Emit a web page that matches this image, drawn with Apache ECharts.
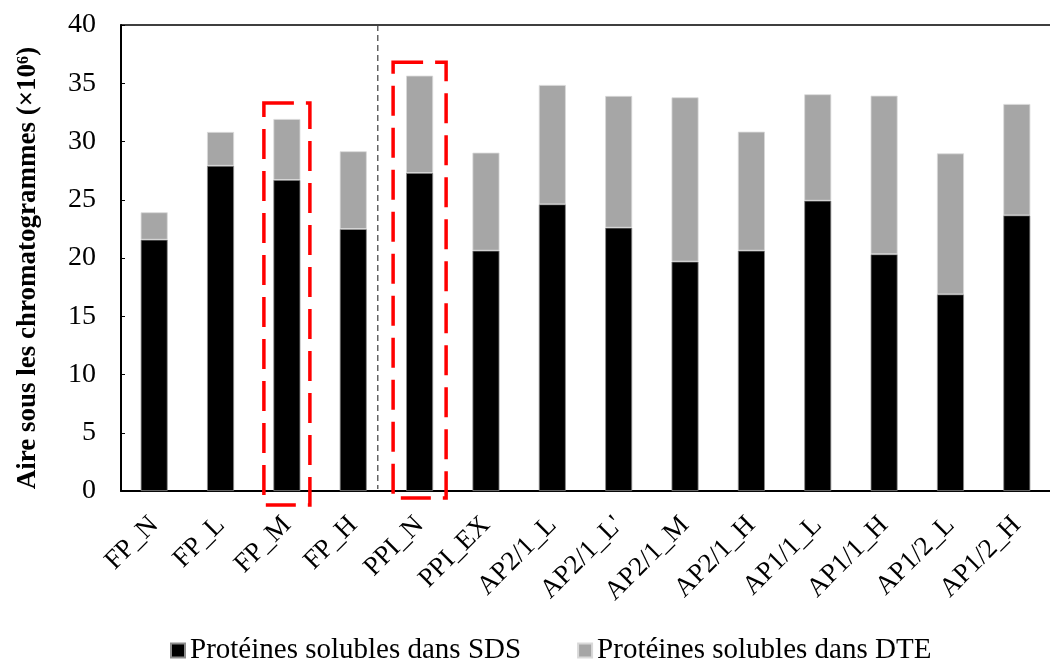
<!DOCTYPE html>
<html>
<head>
<meta charset="utf-8">
<script src="https://cdn.jsdelivr.net/npm/echarts@6/dist/echarts.min.js"></script>
<style>
  html, body { margin: 0; padding: 0; background: #fff; }
  #Chart { width: 1050px; height: 662px; }
</style>
</head>
<body>
<div id="Chart"></div>
<script>
// données
var categories = ['FP_N', 'FP_L', 'FP_M', 'FP_H', 'PPI_N', 'PPI_EX', 'AP2/1_L', "AP2/1_L'", 'AP2/1_M', 'AP2/1_H', 'AP1/1_L', 'AP1/1_H', 'AP1/2_L', 'AP1/2_H'];
var sds = [21.57, 27.92, 26.70, 22.49, 27.30, 20.63, 24.61, 22.60, 19.69, 20.63, 24.92, 20.32, 16.88, 23.66];
var dte = [2.35, 2.90, 5.23, 6.67, 8.35, 8.41, 10.24, 11.31, 14.10, 10.21, 9.13, 13.61, 12.10, 9.56];
var yTicks = [0, 5, 10, 15, 20, 25, 30, 35, 40];
var seriesNames = ['Protéines solubles dans SDS', 'Protéines solubles dans DTE'];

var fontFam = 'Liberation Serif';
var black = '#000000';
var grey = '#a6a6a6';

var myChart = echarts.init(document.getElementById('Chart'));
var option = {
    animation: false,
    textStyle: { fontFamily: fontFam },
    grid: {
        left: 121,
        right: -12,
        top: 25,
        bottom: 171
    },
    legend: {
        bottom: -8,
        left: 165,
        itemWidth: 14,
        itemHeight: 14,
        itemGap: 56,
        icon: 'rect',
        textStyle: { fontFamily: fontFam, fontSize: 29, color: '#000' },
        data: seriesNames
    },
    xAxis: [{
        type: 'category',
        data: categories,
        axisLine: { lineStyle: { color: '#000', width: 2 } },
        axisTick: { show: false },
        axisLabel: {
            rotate: 45,
            interval: 0,
            margin: 30,
            fontFamily: fontFam,
            fontSize: 27,
            color: '#000'
        }
    }, {
        type: 'category',
        position: 'top',
        data: categories,
        axisLine: { show: true, lineStyle: { color: '#000', width: 1.5 } },
        axisTick: { show: false },
        axisLabel: { show: false }
    }],
    yAxis: {
        type: 'value',
        min: yTicks[0],
        max: yTicks[yTicks.length - 1],
        interval: 5,
        name: 'Aire sous les chromatogrammes (×10⁶)',
        nameLocation: 'middle',
        nameGap: 79,
        nameTextStyle: {
            fontFamily: fontFam,
            fontSize: 27,
            fontWeight: 'bold',
            color: '#000',
            padding: [0, 20, 0, 0]
        },
        axisLine: { show: true, lineStyle: { color: '#000', width: 2 } },
        axisTick: { show: true, inside: true, length: 4, lineStyle: { color: '#000' } },
        splitLine: { show: false },
        axisLabel: {
            margin: 25,
            fontFamily: fontFam,
            fontSize: 28,
            color: '#000'
        }
    },
    series: [
        {
            name: seriesNames[0],
            type: 'bar',
            stack: 'tot',
            barWidth: 27,
            data: sds,
            itemStyle: { color: black, borderColor: '#8c8c8c', borderWidth: 0.8 }
        },
        {
            name: seriesNames[1],
            type: 'bar',
            stack: 'tot',
            barWidth: 27,
            data: dte,
            itemStyle: { color: grey, borderColor: '#d9d9d9', borderWidth: 0.8 }
        }
    ]
};
myChart.setOption(option);

// annotations : séparateur pointillé et cadres rouges
function px(idx, val) {
    return myChart.convertToPixel({ gridIndex: 0 }, [idx, val]);
}
var p3 = px(3, 0), p4 = px(4, 0), pTop = px(3, 40);
var sepX = p3[0] + (p4[0] - p3[0]) * 0.37;
var boxes = [
    { idx: 2, top: 33.3, bottom: -1.2, half: 23 },
    { idx: 4, top: 36.8, bottom: -0.6, half: 26.5 }
];
var graphics = [{
    type: 'line',
    shape: { x1: sepX, y1: pTop[1], x2: sepX, y2: p3[1] - 2 },
    style: { stroke: '#404040', lineWidth: 1.2, lineDash: [6, 4] },
    z: 10
}];
boxes.forEach(function (b) {
    var a = px(b.idx, b.top), c = px(b.idx, b.bottom);
    graphics.push({
        type: 'rect',
        shape: { x: a[0] - b.half, y: a[1], width: b.half * 2, height: c[1] - a[1] },
        style: { fill: 'none', stroke: '#ff0000', lineWidth: 3.5, lineDash: [30, 12] },
        z: 10
    });
});
myChart.setOption({ graphic: graphics });

window.addEventListener('resize', function () {
    myChart.resize();
});
</script>
</body>
</html>
